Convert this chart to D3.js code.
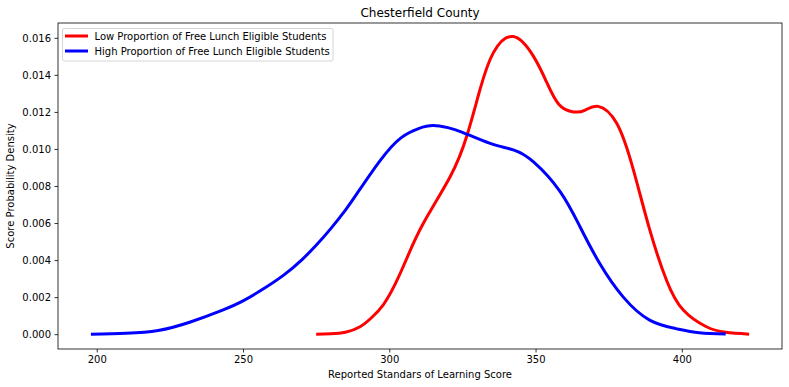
<!DOCTYPE html>
<html>
<head>
<meta charset="utf-8">
<script src="https://cdn.jsdelivr.net/npm/d3@7"></script>
<style>
  body { margin: 0; background: #fff; }
  text { font-family: "DejaVu Sans", sans-serif; fill: #000; }
</style>
</head>
<body>
<div id="chart"></div>
<script>
// density estimates
var lowScore = [275, 280, 285, 290, 294, 298, 302, 306, 311.7, 320.8, 326.5, 331, 335.6, 342.4, 349.3, 353.8, 358, 363, 367, 371.4, 377.7, 383.4, 389.1, 394.8, 400.5, 408.4, 415, 423];
var lowDensity = [0, 0.00002, 0.0001, 0.0004, 0.0009, 0.0016, 0.0027, 0.0041, 0.006, 0.0085, 0.0107, 0.0132, 0.0152, 0.01607, 0.0150, 0.0136, 0.0124, 0.0120, 0.0121, 0.0123, 0.0114, 0.0089, 0.0056, 0.0029, 0.0013, 0.0004, 0.0001, 0];

var highScore = [198, 210, 221, 232, 243, 250, 257, 264, 270, 275, 280, 285, 289, 297, 304, 310, 315, 320, 325, 334.5, 342.4, 349.3, 358.4, 365.2, 372, 380, 389, 398, 406, 415];
var highDensity = [0, 0.00005, 0.0002, 0.00066, 0.0013, 0.0018, 0.00245, 0.0032, 0.0040, 0.0048, 0.0057, 0.0067, 0.0076, 0.0094, 0.0106, 0.0111, 0.01126, 0.01115, 0.0109, 0.0103, 0.00995, 0.0093, 0.0077, 0.0058, 0.0038, 0.002, 0.00076, 0.0003, 0.00008, 0.00001];

var xTicks = [200, 250, 300, 350, 400];
var yTicks = [0, 0.002, 0.004, 0.006, 0.008, 0.010, 0.012, 0.014, 0.016];

var seriesNames = ["Low Proportion of Free Lunch Eligible Students", "High Proportion of Free Lunch Eligible Students"];
var seriesColors = ["#ff0000", "#0000ff"];

var width = 789, height = 387;
var margin = { top: 23, right: 7, bottom: 38, left: 58 };

var svg = d3.select("#chart").append("svg")
    .attr("width", width)
    .attr("height", height);

var x = d3.scaleLinear()
    .domain([186.75, 434.25])
    .range([margin.left, width - margin.right]);
var y = d3.scaleLinear()
    .domain([-0.0008, 0.0168])
    .range([height - margin.bottom, margin.top]);

var series = [
  { name: seriesNames[0], color: seriesColors[0], pts: d3.zip(lowScore, lowDensity) },
  { name: seriesNames[1], color: seriesColors[1], pts: d3.zip(highScore, highDensity) }
];

var line = d3.line()
    .x(function(d) { return x(d[0]); })
    .y(function(d) { return y(d[1]); })
    .curve(d3.curveNatural);

svg.selectAll(".kde")
    .data(series)
    .enter().append("path")
    .attr("class", "kde")
    .attr("d", function(d) { return line(d.pts); })
    .attr("fill", "none")
    .attr("stroke", function(d) { return d.color; })
    .attr("stroke-width", 3);

// axes
var xAxis = svg.append("g")
    .attr("transform", "translate(0," + (height - margin.bottom) + ")")
    .call(d3.axisBottom(x).tickValues(xTicks).tickSize(3.5).tickPadding(3.5).tickFormat(d3.format("d")));
var yAxis = svg.append("g")
    .attr("transform", "translate(" + margin.left + ",0)")
    .call(d3.axisLeft(y).tickValues(yTicks).tickSize(3.5).tickPadding(3.5).tickFormat(d3.format(".3f")));

[xAxis, yAxis].forEach(function(a) {
  a.select(".domain").remove();
  a.selectAll("line").attr("stroke", "#000").attr("stroke-width", 0.8);
  a.selectAll("text").attr("font-size", "10px").attr("font-family", "DejaVu Sans").attr("fill", "#000");
});

// frame
svg.append("rect")
    .attr("x", margin.left)
    .attr("y", margin.top)
    .attr("width", width - margin.left - margin.right)
    .attr("height", height - margin.top - margin.bottom)
    .attr("fill", "none")
    .attr("stroke", "#000")
    .attr("stroke-width", 0.8);

svg.append("text")
    .attr("x", (margin.left + width - margin.right) / 2)
    .attr("y", 17)
    .attr("text-anchor", "middle")
    .attr("font-size", "12px")
    .text("Chesterfield County");

svg.append("text")
    .attr("x", (margin.left + width - margin.right) / 2)
    .attr("y", 378)
    .attr("text-anchor", "middle")
    .attr("font-size", "10px")
    .text("Reported Standars of Learning Score");

svg.append("text")
    .attr("transform", "translate(14," + ((margin.top + height - margin.bottom) / 2) + ") rotate(-90)")
    .attr("text-anchor", "middle")
    .attr("font-size", "10px")
    .text("Score Probability Density");

// legend
var legend = svg.append("g").attr("class", "legend");
legend.append("rect")
    .attr("x", 62.5).attr("y", 28.5)
    .attr("width", 270.5).attr("height", 32.5)
    .attr("rx", 2)
    .attr("fill", "#fff").attr("fill-opacity", 0.8)
    .attr("stroke", "#cccccc").attr("stroke-width", 0.8);

var items = legend.selectAll(".item")
    .data(series)
    .enter().append("g")
    .attr("class", "item")
    .attr("transform", function(d, i) { return "translate(0," + (36 + i * 15) + ")"; });
items.append("line")
    .attr("x1", 65).attr("x2", 88)
    .attr("stroke", function(d) { return d.color; })
    .attr("stroke-width", 3);
items.append("text")
    .attr("x", 94.5).attr("y", 3.6)
    .attr("font-size", "10px")
    .text(function(d) { return d.name; });
</script>
</body>
</html>
